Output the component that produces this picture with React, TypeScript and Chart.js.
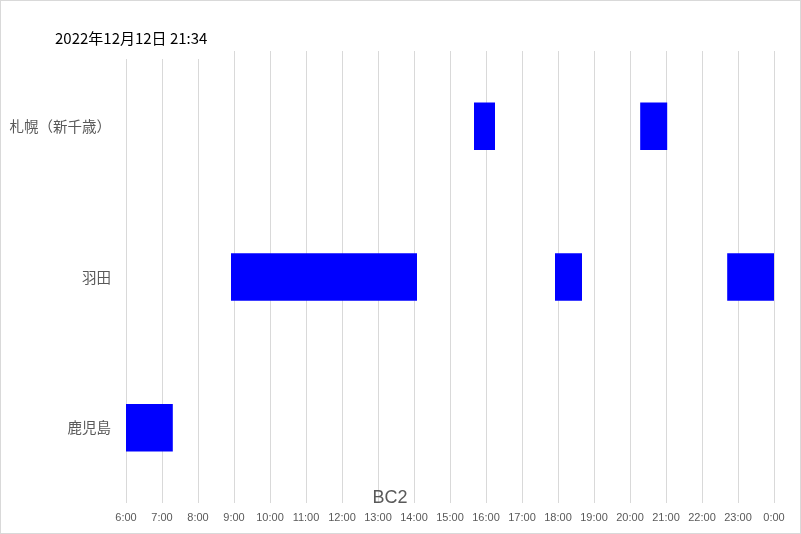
import React, { useEffect, useRef } from "react";
import { Chart, registerables } from "chart.js";

Chart.register(...registerables);

const TITLE = "2022年12月12日 21:34";
const AXIS_TITLE = "BC2";
const categories = ["札幌（新千歳）", "羽田", "鹿児島"];
// Segments per category as [start, end] in "H:MM" (24:00 = midnight)
const segment1: ([string, string] | null)[] = [["15:40", "16:15"], ["8:55", "14:05"], ["6:00", "7:18"]];
const segment2: ([string, string] | null)[] = [["20:17", "21:02"], ["17:55", "18:40"], null];
const segment3: ([string, string] | null)[] = [null, ["22:42", "24:00"], null];
const xMinHour = 6;
const xMaxHour = 24;

const toHours = (s: string) => {
  const [h, m] = s.split(":").map(Number);
  return h + m / 60;
};
const conv = (arr: ([string, string] | null)[]) =>
  arr.map((p) => (p ? [toHours(p[0]), toHours(p[1])] : null));

const decorPlugin = {
  id: "decor",
  afterDraw(chart: any) {
    const ctx = chart.ctx;
    ctx.save();
    // white title box covering gridlines
    ctx.fillStyle = "#ffffff";
    ctx.fillRect(45, 22, 183, 37);
    ctx.fillStyle = "#000000";
    ctx.font = '15px "Noto Sans CJK JP", sans-serif';
    ctx.textBaseline = "middle";
    ctx.textAlign = "left";
    ctx.fillText(TITLE, 55, 38);
    // axis title
    ctx.fillStyle = "#595959";
    ctx.font = '18px "Liberation Sans", sans-serif';
    ctx.textAlign = "center";
    ctx.fillText(AXIS_TITLE, 390, 498);
    // outer border
    ctx.strokeStyle = "#d9d9d9";
    ctx.lineWidth = 1;
    ctx.strokeRect(0.5, 0.5, chart.width - 1, chart.height - 1);
    ctx.restore();
  },
};

export default function App() {
  const ref = useRef<HTMLCanvasElement>(null);
  useEffect(() => {
    document.body.style.margin = "0";
    const ds = (d: any) => ({
      data: conv(d),
      backgroundColor: "#0000ff",
      borderWidth: 0,
      grouped: false,
      categoryPercentage: 1,
      barPercentage: 0.315,
    });
    const chart = new Chart(ref.current!, {
      type: "bar",
      data: {
        labels: categories,
        datasets: [ds(segment1), ds(segment2), ds(segment3)],
      },
      plugins: [decorPlugin],
      options: {
        indexAxis: "y",
        responsive: false,
        animation: false,
        layout: { padding: { top: 51, right: 27, bottom: 0, left: 0 } },
        plugins: { legend: { display: false }, tooltip: { enabled: false } },
        scales: {
          x: {
            type: "linear",
            min: xMinHour,
            max: xMaxHour,
            grid: { color: "#d9d9d9", drawTicks: false },
            border: { display: false },
            ticks: {
              stepSize: 1,
              autoSkip: false,
              maxRotation: 0,
              padding: 8,
              color: "#595959",
              font: { family: '"Liberation Sans", sans-serif', size: 11 },
              callback: (v: any) => `${Number(v) % 24}:00`,
            },
            afterFit: (s: any) => {
              s.height = 31;
            },
          },
          y: {
            type: "category",
            grid: { display: false, drawTicks: false },
            border: { display: false },
            ticks: {
              padding: 15,
              color: "#595959",
              font: { family: '"Noto Sans CJK JP", sans-serif', size: 14.5 },
            },
            afterFit: (s: any) => {
              s.width = 126;
            },
          },
        },
      },
    });
    return () => chart.destroy();
  }, []);
  return <canvas ref={ref} width={801} height={534} style={{ display: "block" }} />;
}
